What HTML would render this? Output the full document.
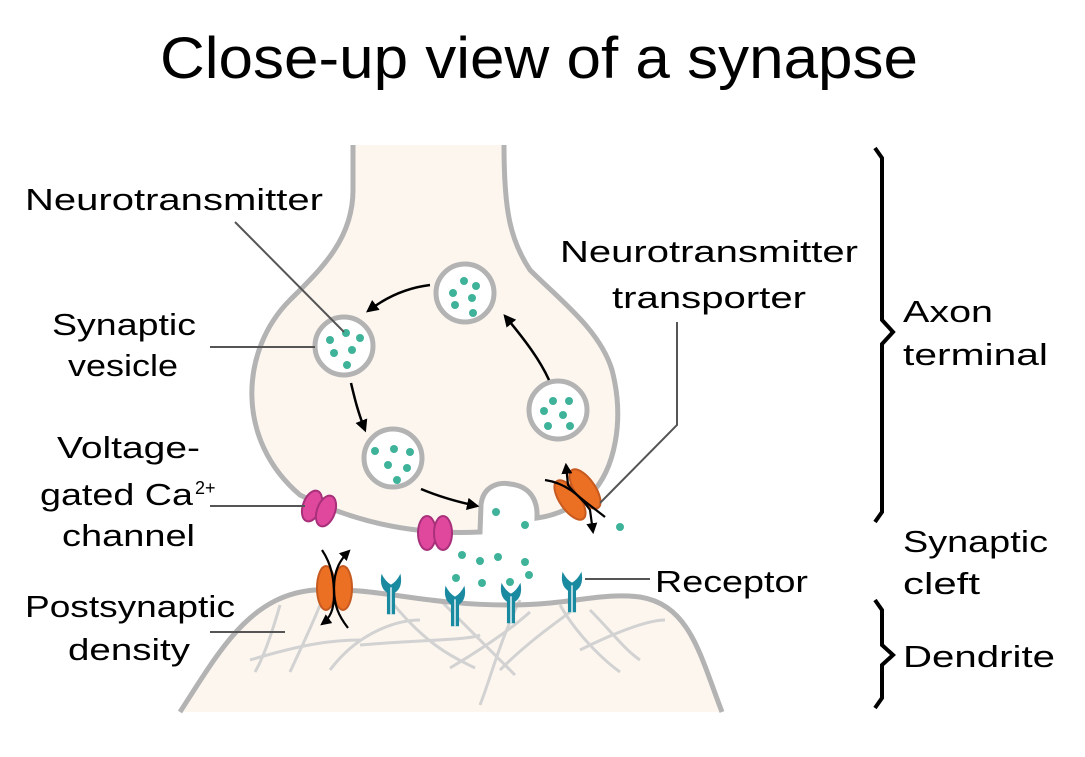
<!DOCTYPE html>
<html><head><meta charset="utf-8"><style>
html,body{margin:0;padding:0;background:#fff;width:1085px;height:757px;overflow:hidden}
svg{display:block}
text{font-family:"Liberation Sans",sans-serif;fill:#000}
</style></head><body>
<svg width="1085" height="757" viewBox="0 0 1085 757" xmlns="http://www.w3.org/2000/svg">
<defs>
<marker id="ah" viewBox="0 0 10 10" refX="8" refY="5" markerWidth="5" markerHeight="5" orient="auto"><path d="M0,0 L10,5 L0,10 z" fill="#000"/></marker>
<g id="rec"><path d="M-7,-12 Q-9,-2 -3,2 L-3,18 L3,18 L3,2 Q9,-2 7,-12 Q4,-6 0,-4 Q-4,-6 -7,-12 z" fill="#1a8aa0"/><line x1="0" y1="-2" x2="0" y2="18" stroke="#fff" stroke-width="1"/></g>
</defs>
<text x="160" y="78" font-size="58" textLength="758" lengthAdjust="spacingAndGlyphs">Close-up view of a synapse</text>

<!-- dendrite -->
<path d="M180,712 C220,650 250,595 315,590 C380,587 420,605 510,605 C570,605 600,592 640,597 C690,605 700,655 722,712 Z" fill="#fdf6ef"/>
<g stroke="#d2d2d2" stroke-width="3" fill="none">
<path d="M280,605 C270,640 262,660 255,672"/><path d="M320,605 C310,630 300,650 290,672"/>
<path d="M250,660 C300,645 330,640 360,640"/><path d="M330,670 C360,630 400,620 420,620"/>
<path d="M360,645 C420,640 470,640 480,635"/><path d="M390,600 C430,650 460,660 475,668"/>
<path d="M440,600 C470,630 500,660 515,675"/><path d="M520,600 C500,640 490,680 480,705"/>
<path d="M450,668 C480,650 510,630 530,612"/><path d="M560,605 C580,640 610,665 620,672"/>
<path d="M500,670 C530,640 560,620 570,612"/><path d="M590,610 C610,630 625,650 640,660"/>
<path d="M580,650 C620,630 650,620 665,620"/></g>
<path d="M180,712 C220,650 250,595 315,590 C380,587 420,605 510,605 C570,605 600,592 640,597 C690,605 700,655 722,712" fill="none" stroke="#b3b3b3" stroke-width="5"/>

<!-- axon terminal -->
<path d="M353,145 L353,190 C353,240 320,270 290,300 C240,350 235,440 300,495 C360,525 420,535 480,532 L481,505 C483,485 500,482 510,484 C530,486 538,500 537,518 C560,515 575,505 590,495 C615,470 625,420 612,370 C600,330 560,300 530,270 C510,240 504,210 504,145 Z" fill="#fdf6ef"/>
<path d="M353,145 L353,190 C353,240 320,270 290,300 C240,350 235,440 300,495 C360,525 420,535 480,532 L481,505 C483,485 500,482 510,484 C530,486 538,500 537,518 C560,515 575,505 590,495 C615,470 625,420 612,370 C600,330 560,300 530,270 C510,240 504,210 504,145" fill="none" stroke="#b3b3b3" stroke-width="5"/>

<!-- vesicles -->
<g fill="#fff" stroke="#b3b3b3" stroke-width="5">
<circle cx="465" cy="293" r="29"/><circle cx="344" cy="346" r="29"/><circle cx="558" cy="410" r="29"/><circle cx="393" cy="458" r="29"/></g>
<g fill="#3fb39a">
<circle cx="464" cy="281" r="4"/><circle cx="476" cy="286" r="4"/><circle cx="453" cy="293" r="4"/><circle cx="472" cy="298" r="4"/><circle cx="455" cy="305" r="4"/><circle cx="473" cy="313" r="4"/>
<circle cx="346" cy="333" r="4"/><circle cx="360" cy="338" r="4"/><circle cx="330" cy="340" r="4"/><circle cx="352" cy="350" r="4"/><circle cx="334" cy="353" r="4"/><circle cx="347" cy="365" r="4"/>
<circle cx="553" cy="401" r="4"/><circle cx="569" cy="401" r="4"/><circle cx="544" cy="411" r="4"/><circle cx="563" cy="415" r="4"/><circle cx="548" cy="426" r="4"/><circle cx="570" cy="426" r="4"/>
<circle cx="375" cy="451" r="4"/><circle cx="394" cy="449" r="4"/><circle cx="410" cy="452" r="4"/><circle cx="388" cy="465" r="4"/><circle cx="407" cy="468" r="4"/><circle cx="397" cy="480" r="4"/>
<circle cx="496" cy="512" r="4"/><circle cx="525" cy="525" r="4"/><circle cx="462" cy="555" r="4"/><circle cx="480" cy="561" r="4"/><circle cx="498" cy="557" r="4"/><circle cx="525" cy="562" r="4"/><circle cx="456" cy="578" r="4"/><circle cx="482" cy="583" r="4"/><circle cx="510" cy="582" r="4"/><circle cx="529" cy="575" r="4"/><circle cx="620" cy="527" r="4"/></g>

<!-- cycle arrows -->
<g fill="none" stroke="#000" stroke-width="2.5" marker-end="url(#ah)">
<path d="M430,285 C405,288 385,298 368,311"/>
<path d="M351,383 C355,400 358,412 365,430"/>
<path d="M421,489 C440,497 458,502 477,506"/>
<path d="M549,380 C540,360 525,340 505,316"/>
</g>

<!-- Ca channels -->
<g fill="#e0489e" stroke="#a8307a" stroke-width="2">
<ellipse cx="312" cy="506" rx="9" ry="16" transform="rotate(20 312 506)"/><ellipse cx="326" cy="511" rx="9" ry="16" transform="rotate(20 326 511)"/>
<ellipse cx="427" cy="533" rx="9" ry="17"/><ellipse cx="443" cy="533" rx="9" ry="17"/></g>

<!-- transporter -->
<g fill="#ec7024" stroke="#c65a20" stroke-width="2">
<ellipse cx="570" cy="500" rx="10" ry="23" transform="rotate(-35 570 500)"/><ellipse cx="585" cy="489" rx="10" ry="23" transform="rotate(-35 585 489)"/></g>
<g fill="none" stroke="#000" stroke-width="2.2">
<path d="M545,480 C565,483 580,495 590,510 L593,532" marker-end="url(#ah)"/>
<path d="M605,517 C590,505 575,495 568,485 L566,465" marker-end="url(#ah)"/></g>

<!-- post channel -->
<g fill="#ec7024" stroke="#c65a20" stroke-width="2">
<ellipse cx="326" cy="588" rx="9" ry="22"/><ellipse cx="343" cy="588" rx="9" ry="22"/></g>
<g fill="none" stroke="#000" stroke-width="2.2">
<path d="M322,550 C332,565 334,580 334,595 C334,610 330,618 322,624" marker-end="url(#ah)"/>
<path d="M348,628 C338,615 334,605 334,588 C334,570 340,560 349,551" marker-end="url(#ah)"/></g>

<!-- receptors -->
<use href="#rec" transform="translate(391,590) scale(1.35)"/><use href="#rec" transform="translate(455,602) scale(1.35)"/><use href="#rec" transform="translate(511,599) scale(1.35)"/><use href="#rec" transform="translate(572,588) scale(1.35)"/>

<!-- leaders -->
<g stroke="#555" stroke-width="2" fill="none">
<line x1="235" y1="222" x2="344" y2="332"/>
<line x1="210" y1="347" x2="315" y2="347"/>
<line x1="210" y1="506" x2="305" y2="506"/>
<line x1="210" y1="632" x2="285" y2="632"/>
<polyline points="677,322 677,425 600,503"/>
<line x1="585" y1="579" x2="650" y2="579"/>
</g>

<!-- brackets -->
<g stroke="#000" stroke-width="4" fill="none" stroke-linejoin="miter">
<path d="M875,148 L882,158 L882,320 L893,332 L882,344 L882,512 L875,522"/>
<path d="M875,600 L882,610 L882,645 L893,655 L882,665 L882,698 L875,708"/></g>

<g font-size="31">
<text x="25" y="210" textLength="298" lengthAdjust="spacingAndGlyphs">Neurotransmitter</text>
<text x="52" y="335" textLength="144" lengthAdjust="spacingAndGlyphs">Synaptic</text>
<text x="68" y="376" textLength="110" lengthAdjust="spacingAndGlyphs">vesicle</text>
<text x="57" y="458" textLength="143" lengthAdjust="spacingAndGlyphs">Voltage-</text>
<text x="40" y="505" textLength="153" lengthAdjust="spacingAndGlyphs">gated Ca</text>
<text x="195" y="494" font-size="18">2+</text>
<text x="62" y="546" textLength="133" lengthAdjust="spacingAndGlyphs">channel</text>
<text x="25" y="617" textLength="210" lengthAdjust="spacingAndGlyphs">Postsynaptic</text>
<text x="68" y="660" textLength="122" lengthAdjust="spacingAndGlyphs">density</text>
<text x="560" y="262" textLength="298" lengthAdjust="spacingAndGlyphs">Neurotransmitter</text>
<text x="612" y="308" textLength="194" lengthAdjust="spacingAndGlyphs">transporter</text>
<text x="655" y="592" textLength="153" lengthAdjust="spacingAndGlyphs">Receptor</text>
<text x="903" y="322" textLength="90" lengthAdjust="spacingAndGlyphs">Axon</text>
<text x="903" y="365" textLength="145" lengthAdjust="spacingAndGlyphs">terminal</text>
<text x="903" y="552" textLength="145" lengthAdjust="spacingAndGlyphs">Synaptic</text>
<text x="903" y="594" textLength="77" lengthAdjust="spacingAndGlyphs">cleft</text>
<text x="903" y="667" textLength="152" lengthAdjust="spacingAndGlyphs">Dendrite</text>
</g>
</svg>
</body></html>
